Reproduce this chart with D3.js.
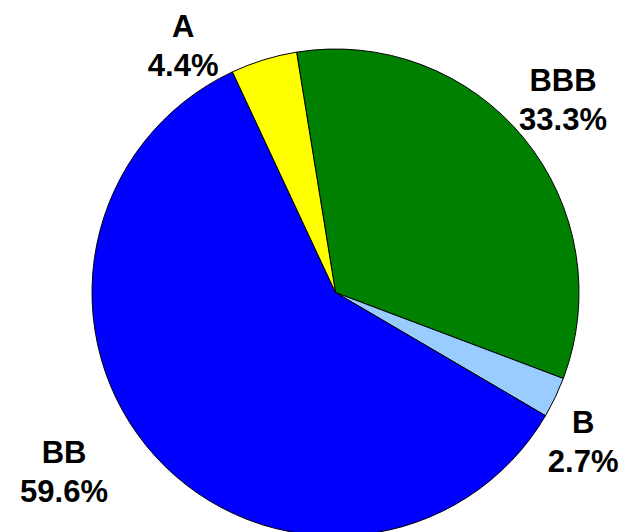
<!DOCTYPE html>
<html>
<head>
<meta charset="utf-8">
<script src="https://cdn.jsdelivr.net/npm/d3@7"></script>
<style>
  html, body { margin: 0; padding: 0; background: #fff; }
  svg { display: block; }
</style>
</head>
<body>
<svg id="chart" width="623" height="532"></svg>
<script>
// Data
const categories = ["BBB", "B", "BB", "A"];
const values = [33.3, 2.7, 59.6, 4.4];
const colors = ["#008000", "#99CCFF", "#0000FF", "#FFFF00"];

// Layout (not data)
const width = 623, height = 532;
const cx = 335.5, cy = 292.5, radius = 243.5;
const startDeg = -9.2;
const labelRadius = 290;
const labelNudge = [[3, -18], [-14, 15], [-57, -25], [-67, 22]];
const lineGap = 39;

const svg = d3.select("#chart");
const g = svg.append("g").attr("transform", `translate(${cx},${cy})`);

const pie = d3.pie()
  .sort(null)
  .value(d => d)
  .startAngle(startDeg * Math.PI / 180)
  .endAngle((startDeg + 360) * Math.PI / 180);

const arcs = pie(values);
const arc = d3.arc().innerRadius(0).outerRadius(radius);
const labelArc = d3.arc().innerRadius(labelRadius).outerRadius(labelRadius);

g.selectAll("path.slice")
  .data(arcs)
  .join("path")
  .attr("class", "slice")
  .attr("d", arc)
  .attr("fill", (d, i) => colors[i])
  .attr("stroke", "#000")
  .attr("stroke-width", 1)
  .attr("stroke-linejoin", "round");

const fmt = d3.format(".1f");
const labels = g.selectAll("g.lbl")
  .data(arcs)
  .join("g")
  .attr("class", "lbl")
  .attr("transform", (d, i) => {
    const c = labelArc.centroid(d);
    return `translate(${c[0] + labelNudge[i][0]},${c[1] + labelNudge[i][1]})`;
  });

labels.append("text")
  .attr("text-anchor", "middle")
  .attr("font-family", "Liberation Sans, Arial, sans-serif")
  .attr("font-weight", "bold")
  .attr("font-size", 31)
  .attr("fill", "#000")
  .text((d, i) => categories[i]);

labels.append("text")
  .attr("text-anchor", "middle")
  .attr("y", lineGap)
  .attr("font-family", "Liberation Sans, Arial, sans-serif")
  .attr("font-weight", "bold")
  .attr("font-size", 31)
  .attr("fill", "#000")
  .text(d => fmt(d.data) + "%");
</script>
</body>
</html>
